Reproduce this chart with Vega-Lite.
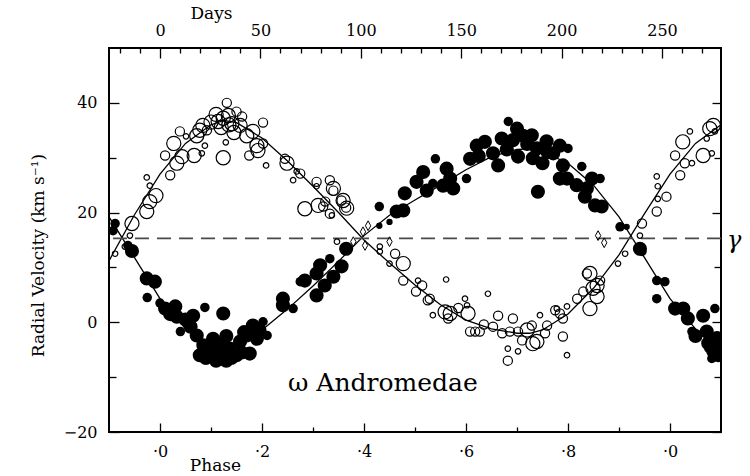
{
  "$schema": "https://vega.github.io/schema/vega-lite/v6.json",
  "width": 612,
  "height": 384,
  "autosize": {"type": "none"},
  "padding": {"left": 109, "top": 48, "right": 29, "bottom": 44},
  "background": "white",
  "config": {
    "view": {"stroke": "black", "strokeWidth": 2},
    "axis": {"domain": false, "grid": false, "tickColor": "black", "tickWidth": 1.3, "labelColor": "black", "titleColor": "black", "labelFont": "DejaVu Serif", "titleFont": "DejaVu Serif", "labelFontSize": 16, "titleFontSize": 17, "titleFontWeight": "normal", "labelOverlap": false, "labelFlush": false, "labelBound": false}
  },
  "datasets": {
    "open": [
      {"phase": -0.088, "rv": 12.5, "weight": 1}, {"phase": -0.069, "rv": 13.8, "weight": 1}, {"phase": -0.059, "rv": 15.8, "weight": 1},
      {"phase": -0.055, "rv": 18.0, "weight": 3}, {"phase": -0.026, "rv": 20.2, "weight": 3}, {"phase": -0.02, "rv": 22.0, "weight": 3},
      {"phase": -0.008, "rv": 23.1, "weight": 3}, {"phase": -0.02, "rv": 24.9, "weight": 1}, {"phase": -0.026, "rv": 26.4, "weight": 1},
      {"phase": 0.02, "rv": 26.8, "weight": 2}, {"phase": 0.01, "rv": 30.4, "weight": 2}, {"phase": 0.027, "rv": 32.6, "weight": 3},
      {"phase": 0.039, "rv": 34.8, "weight": 2}, {"phase": 0.051, "rv": 33.9, "weight": 1}, {"phase": 0.033, "rv": 29.0, "weight": 3},
      {"phase": 0.043, "rv": 30.2, "weight": 3}, {"phase": 0.067, "rv": 30.4, "weight": 3}, {"phase": 0.082, "rv": 30.8, "weight": 1},
      {"phase": 0.088, "rv": 32.2, "weight": 1}, {"phase": 0.072, "rv": 34.0, "weight": 3}, {"phase": 0.084, "rv": 35.9, "weight": 3},
      {"phase": 0.078, "rv": 35.0, "weight": 3}, {"phase": 0.092, "rv": 35.0, "weight": 2}, {"phase": 0.114, "rv": 36.6, "weight": 3},
      {"phase": 0.124, "rv": 37.2, "weight": 3}, {"phase": 0.134, "rv": 37.7, "weight": 3}, {"phase": 0.131, "rv": 40.0, "weight": 2},
      {"phase": 0.141, "rv": 36.2, "weight": 3}, {"phase": 0.124, "rv": 30.0, "weight": 3}, {"phase": 0.129, "rv": 32.8, "weight": 1},
      {"phase": 0.1, "rv": 36.5, "weight": 3}, {"phase": 0.12, "rv": 35.5, "weight": 3}, {"phase": 0.145, "rv": 34.6, "weight": 3},
      {"phase": 0.11, "rv": 37.9, "weight": 3}, {"phase": 0.15, "rv": 38.4, "weight": 2}, {"phase": 0.135, "rv": 36.0, "weight": 3},
      {"phase": 0.161, "rv": 37.5, "weight": 2}, {"phase": 0.157, "rv": 35.9, "weight": 3}, {"phase": 0.17, "rv": 34.0, "weight": 3},
      {"phase": 0.182, "rv": 34.8, "weight": 3}, {"phase": 0.202, "rv": 36.4, "weight": 2}, {"phase": 0.19, "rv": 32.2, "weight": 3},
      {"phase": 0.175, "rv": 30.4, "weight": 2}, {"phase": 0.202, "rv": 32.6, "weight": 2}, {"phase": 0.192, "rv": 31.3, "weight": 3},
      {"phase": 0.208, "rv": 28.6, "weight": 1}, {"phase": 0.249, "rv": 29.0, "weight": 3}, {"phase": 0.245, "rv": 29.8, "weight": 2},
      {"phase": 0.261, "rv": 25.9, "weight": 1}, {"phase": 0.268, "rv": 27.5, "weight": 1}, {"phase": 0.275, "rv": 27.1, "weight": 2},
      {"phase": 0.307, "rv": 25.6, "weight": 2}, {"phase": 0.307, "rv": 24.8, "weight": 1}, {"phase": 0.34, "rv": 24.0, "weight": 2},
      {"phase": 0.284, "rv": 20.7, "weight": 3}, {"phase": 0.31, "rv": 21.3, "weight": 3}, {"phase": 0.32, "rv": 21.1, "weight": 2},
      {"phase": 0.356, "rv": 22.2, "weight": 2}, {"phase": 0.365, "rv": 20.9, "weight": 2}, {"phase": 0.337, "rv": 19.5, "weight": 1},
      {"phase": 0.333, "rv": 25.9, "weight": 2}, {"phase": 0.34, "rv": 24.4, "weight": 3}, {"phase": 0.359, "rv": 22.2, "weight": 3},
      {"phase": 0.366, "rv": 20.8, "weight": 3}, {"phase": 0.324, "rv": 22.0, "weight": 2}, {"phase": 0.333, "rv": 19.8, "weight": 2},
      {"phase": 0.347, "rv": 14.7, "weight": 1}, {"phase": 0.431, "rv": 13.8, "weight": 1}, {"phase": 0.431, "rv": 12.9, "weight": 1},
      {"phase": 0.461, "rv": 12.5, "weight": 2}, {"phase": 0.477, "rv": 10.7, "weight": 3}, {"phase": 0.45, "rv": 10.7, "weight": 1},
      {"phase": 0.506, "rv": 7.6, "weight": 1}, {"phase": 0.514, "rv": 6.7, "weight": 2}, {"phase": 0.477, "rv": 7.6, "weight": 2},
      {"phase": 0.502, "rv": 5.6, "weight": 2}, {"phase": 0.525, "rv": 4.0, "weight": 2}, {"phase": 0.561, "rv": 7.8, "weight": 1},
      {"phase": 0.598, "rv": 4.3, "weight": 1}, {"phase": 0.602, "rv": 3.1, "weight": 1}, {"phase": 0.604, "rv": 1.6, "weight": 3},
      {"phase": 0.559, "rv": 1.9, "weight": 3}, {"phase": 0.569, "rv": 1.6, "weight": 3}, {"phase": 0.565, "rv": 0.7, "weight": 2},
      {"phase": 0.535, "rv": 1.3, "weight": 1}, {"phase": 0.529, "rv": 4.3, "weight": 2}, {"phase": 0.643, "rv": 5.2, "weight": 1},
      {"phase": 0.608, "rv": -1.7, "weight": 2}, {"phase": 0.618, "rv": -1.7, "weight": 2}, {"phase": 0.627, "rv": -1.7, "weight": 2},
      {"phase": 0.653, "rv": -0.8, "weight": 2}, {"phase": 0.663, "rv": 1.2, "weight": 2}, {"phase": 0.671, "rv": -2.0, "weight": 2},
      {"phase": 0.692, "rv": 0.7, "weight": 2}, {"phase": 0.686, "rv": -1.7, "weight": 2}, {"phase": 0.702, "rv": -1.7, "weight": 2},
      {"phase": 0.71, "rv": -3.3, "weight": 2}, {"phase": 0.682, "rv": -4.8, "weight": 1}, {"phase": 0.702, "rv": -5.3, "weight": 1},
      {"phase": 0.682, "rv": -7.0, "weight": 2}, {"phase": 0.729, "rv": -0.6, "weight": 2}, {"phase": 0.731, "rv": -3.9, "weight": 3},
      {"phase": 0.739, "rv": -3.5, "weight": 3}, {"phase": 0.745, "rv": 1.3, "weight": 1}, {"phase": 0.759, "rv": -0.6, "weight": 2},
      {"phase": 0.755, "rv": -2.0, "weight": 2}, {"phase": 0.778, "rv": 2.5, "weight": 1}, {"phase": 0.775, "rv": 2.2, "weight": 2},
      {"phase": 0.784, "rv": 1.6, "weight": 2}, {"phase": 0.79, "rv": 0.7, "weight": 2}, {"phase": 0.79, "rv": -2.6, "weight": 2},
      {"phase": 0.72, "rv": -1.4, "weight": 3}, {"phase": 0.635, "rv": -0.4, "weight": 2}, {"phase": 0.585, "rv": 2.6, "weight": 2},
      {"phase": 0.798, "rv": -6.0, "weight": 1}, {"phase": 0.798, "rv": 2.9, "weight": 1}, {"phase": 0.818, "rv": 4.3, "weight": 2},
      {"phase": 0.83, "rv": 5.6, "weight": 2}, {"phase": 0.843, "rv": 2.5, "weight": 3}, {"phase": 0.837, "rv": 8.9, "weight": 2},
      {"phase": 0.849, "rv": 6.2, "weight": 3}, {"phase": 0.857, "rv": 4.7, "weight": 3}, {"phase": 0.863, "rv": 7.6, "weight": 2},
      {"phase": 0.843, "rv": 8.9, "weight": 3}, {"phase": 0.857, "rv": 6.7, "weight": 3}, {"phase": 0.898, "rv": 10.7, "weight": 1},
      {"phase": 0.912, "rv": 12.5, "weight": 1}, {"phase": 0.941, "rv": 15.8, "weight": 1}, {"phase": 0.945, "rv": 18.0, "weight": 2},
      {"phase": 0.974, "rv": 20.2, "weight": 2}, {"phase": 0.976, "rv": 22.5, "weight": 1}, {"phase": 0.993, "rv": 22.9, "weight": 2},
      {"phase": 0.974, "rv": 26.6, "weight": 1}, {"phase": 0.976, "rv": 24.8, "weight": 1}, {"phase": 1.01, "rv": 30.4, "weight": 2},
      {"phase": 1.02, "rv": 26.8, "weight": 2}, {"phase": 1.029, "rv": 29.0, "weight": 2}, {"phase": 1.043, "rv": 29.0, "weight": 1},
      {"phase": 1.025, "rv": 32.9, "weight": 3}, {"phase": 1.039, "rv": 34.8, "weight": 1}, {"phase": 1.065, "rv": 30.4, "weight": 3},
      {"phase": 1.082, "rv": 30.8, "weight": 1}, {"phase": 1.072, "rv": 33.5, "weight": 1}, {"phase": 1.078, "rv": 35.3, "weight": 3},
      {"phase": 1.085, "rv": 35.9, "weight": 3}, {"phase": 1.088, "rv": 34.8, "weight": 1}
    ],
    "filled": [
      {"phase": -0.092, "rv": 16.7, "weight": 2}, {"phase": -0.088, "rv": 18.0, "weight": 2}, {"phase": -0.063, "rv": 14.0, "weight": 2},
      {"phase": -0.055, "rv": 13.0, "weight": 3}, {"phase": -0.026, "rv": 8.0, "weight": 3}, {"phase": -0.01, "rv": 7.4, "weight": 3},
      {"phase": -0.025, "rv": 4.5, "weight": 2}, {"phase": 0.01, "rv": 2.5, "weight": 3}, {"phase": 0.03, "rv": 2.9, "weight": 3},
      {"phase": 0.033, "rv": 1.0, "weight": 3}, {"phase": 0.04, "rv": -1.7, "weight": 2}, {"phase": 0.065, "rv": 1.2, "weight": 3},
      {"phase": 0.088, "rv": 2.7, "weight": 2}, {"phase": 0.124, "rv": 1.6, "weight": 3}, {"phase": 0.072, "rv": -2.4, "weight": 3},
      {"phase": 0.085, "rv": -4.2, "weight": 3}, {"phase": 0.104, "rv": -3.0, "weight": 3}, {"phase": 0.078, "rv": -6.0, "weight": 3},
      {"phase": 0.11, "rv": -7.0, "weight": 3}, {"phase": 0.137, "rv": -4.8, "weight": 3}, {"phase": 0.13, "rv": -7.0, "weight": 3},
      {"phase": 0.157, "rv": -3.5, "weight": 3}, {"phase": 0.17, "rv": -2.4, "weight": 3}, {"phase": 0.176, "rv": -5.7, "weight": 3},
      {"phase": 0.182, "rv": -0.6, "weight": 3}, {"phase": 0.202, "rv": 0.1, "weight": 2}, {"phase": 0.21, "rv": -2.4, "weight": 2},
      {"phase": 0.12, "rv": -5.0, "weight": 3}, {"phase": 0.095, "rv": -5.5, "weight": 3}, {"phase": 0.15, "rv": -6.0, "weight": 3},
      {"phase": 0.09, "rv": -6.5, "weight": 3}, {"phase": 0.1, "rv": -5.0, "weight": 3}, {"phase": 0.115, "rv": -4.0, "weight": 3},
      {"phase": 0.14, "rv": -6.5, "weight": 3}, {"phase": 0.16, "rv": -5.5, "weight": 3}, {"phase": 0.165, "rv": -1.8, "weight": 3},
      {"phase": 0.19, "rv": -3.0, "weight": 3}, {"phase": 0.195, "rv": -1.5, "weight": 3}, {"phase": 0.06, "rv": -0.8, "weight": 3},
      {"phase": 0.05, "rv": 0.5, "weight": 3}, {"phase": 0.13, "rv": -2.5, "weight": 3}, {"phase": 0.12, "rv": -3.5, "weight": 2},
      {"phase": 0.0, "rv": 3.5, "weight": 2}, {"phase": 0.02, "rv": 1.5, "weight": 3},
      {"phase": 0.241, "rv": 3.1, "weight": 3}, {"phase": 0.261, "rv": 2.5, "weight": 2}, {"phase": 0.275, "rv": 7.4, "weight": 2},
      {"phase": 0.241, "rv": 4.3, "weight": 3}, {"phase": 0.284, "rv": 7.6, "weight": 3}, {"phase": 0.307, "rv": 8.9, "weight": 3},
      {"phase": 0.314, "rv": 10.4, "weight": 3}, {"phase": 0.323, "rv": 6.7, "weight": 3}, {"phase": 0.333, "rv": 11.6, "weight": 2},
      {"phase": 0.34, "rv": 8.3, "weight": 3}, {"phase": 0.356, "rv": 10.2, "weight": 3}, {"phase": 0.365, "rv": 13.4, "weight": 3},
      {"phase": 0.307, "rv": 4.9, "weight": 3}, {"phase": 0.43, "rv": 21.1, "weight": 2}, {"phase": 0.45, "rv": 18.3, "weight": 1},
      {"phase": 0.43, "rv": 17.6, "weight": 1}, {"phase": 0.464, "rv": 20.2, "weight": 3}, {"phase": 0.477, "rv": 20.4, "weight": 3},
      {"phase": 0.48, "rv": 23.5, "weight": 3}, {"phase": 0.503, "rv": 25.6, "weight": 3}, {"phase": 0.516, "rv": 27.4, "weight": 3},
      {"phase": 0.523, "rv": 24.0, "weight": 3}, {"phase": 0.535, "rv": 25.3, "weight": 2}, {"phase": 0.54, "rv": 29.8, "weight": 2},
      {"phase": 0.555, "rv": 24.9, "weight": 3}, {"phase": 0.562, "rv": 28.0, "weight": 3}, {"phase": 0.569, "rv": 26.2, "weight": 3},
      {"phase": 0.575, "rv": 24.4, "weight": 3}, {"phase": 0.601, "rv": 26.2, "weight": 2}, {"phase": 0.608, "rv": 29.8, "weight": 3},
      {"phase": 0.621, "rv": 32.2, "weight": 3}, {"phase": 0.637, "rv": 32.9, "weight": 3}, {"phase": 0.663, "rv": 28.6, "weight": 3},
      {"phase": 0.653, "rv": 30.8, "weight": 3}, {"phase": 0.683, "rv": 36.6, "weight": 2}, {"phase": 0.70, "rv": 35.3, "weight": 3},
      {"phase": 0.712, "rv": 34.0, "weight": 3}, {"phase": 0.692, "rv": 33.2, "weight": 3}, {"phase": 0.702, "rv": 30.2, "weight": 3},
      {"phase": 0.67, "rv": 33.5, "weight": 3}, {"phase": 0.68, "rv": 31.5, "weight": 3}, {"phase": 0.72, "rv": 32.5, "weight": 3},
      {"phase": 0.75, "rv": 29.0, "weight": 3}, {"phase": 0.76, "rv": 31.0, "weight": 3}, {"phase": 0.625, "rv": 30.3, "weight": 3},
      {"phase": 0.729, "rv": 34.1, "weight": 3}, {"phase": 0.739, "rv": 31.7, "weight": 3}, {"phase": 0.731, "rv": 29.9, "weight": 3},
      {"phase": 0.758, "rv": 33.0, "weight": 3}, {"phase": 0.771, "rv": 30.8, "weight": 3}, {"phase": 0.784, "rv": 32.2, "weight": 3},
      {"phase": 0.80, "rv": 31.7, "weight": 2}, {"phase": 0.741, "rv": 23.8, "weight": 3}, {"phase": 0.784, "rv": 26.2, "weight": 3},
      {"phase": 0.798, "rv": 26.2, "weight": 3}, {"phase": 0.817, "rv": 25.0, "weight": 3}, {"phase": 0.79, "rv": 28.6, "weight": 3},
      {"phase": 0.827, "rv": 28.4, "weight": 2}, {"phase": 0.837, "rv": 24.4, "weight": 3}, {"phase": 0.847, "rv": 26.2, "weight": 3},
      {"phase": 0.863, "rv": 26.2, "weight": 2}, {"phase": 0.833, "rv": 22.9, "weight": 3}, {"phase": 0.853, "rv": 21.3, "weight": 3},
      {"phase": 0.866, "rv": 21.1, "weight": 3}, {"phase": 0.902, "rv": 17.4, "weight": 2}, {"phase": 0.915, "rv": 17.4, "weight": 1},
      {"phase": 0.941, "rv": 13.4, "weight": 3}, {"phase": 0.945, "rv": 12.9, "weight": 2}, {"phase": 0.974, "rv": 7.6, "weight": 2},
      {"phase": 0.99, "rv": 7.4, "weight": 2}, {"phase": 0.974, "rv": 4.3, "weight": 2}, {"phase": 1.01, "rv": 2.5, "weight": 3},
      {"phase": 1.026, "rv": 2.5, "weight": 3}, {"phase": 1.035, "rv": 0.7, "weight": 3}, {"phase": 1.065, "rv": 1.2, "weight": 3},
      {"phase": 1.088, "rv": 2.5, "weight": 2}, {"phase": 1.043, "rv": -1.7, "weight": 2}, {"phase": 1.072, "rv": -1.7, "weight": 3},
      {"phase": 1.075, "rv": -3.8, "weight": 3}, {"phase": 1.085, "rv": -5.3, "weight": 3}, {"phase": 1.092, "rv": -2.9, "weight": 3},
      {"phase": 1.082, "rv": -6.6, "weight": 2}, {"phase": 1.08, "rv": -4.5, "weight": 3}, {"phase": 1.09, "rv": -4.0, "weight": 3},
      {"phase": 1.095, "rv": -6.0, "weight": 3}, {"phase": 1.05, "rv": -2.5, "weight": 3}
    ],
    "diamonds": [
      {"phase": 0.379, "rv": 14.7}, {"phase": 0.398, "rv": 16.5}, {"phase": 0.402, "rv": 14.0}, {"phase": 0.408, "rv": 17.6},
      {"phase": 0.45, "rv": 14.7}, {"phase": 0.859, "rv": 15.8}, {"phase": 0.871, "rv": 14.5}
    ],
    "curveSecondary": [
      {"phase": -0.1, "rv": 11.2}, {"phase": -0.05, "rv": 19.6}, {"phase": 0.0, "rv": 27.0}, {"phase": 0.05, "rv": 32.6},
      {"phase": 0.1, "rv": 36.0}, {"phase": 0.125, "rv": 36.8}, {"phase": 0.15, "rv": 36.4}, {"phase": 0.2, "rv": 33.6},
      {"phase": 0.25, "rv": 29.4}, {"phase": 0.3, "rv": 24.8}, {"phase": 0.35, "rv": 20.0}, {"phase": 0.4, "rv": 15.0},
      {"phase": 0.45, "rv": 10.8}, {"phase": 0.5, "rv": 6.8}, {"phase": 0.55, "rv": 3.2}, {"phase": 0.6, "rv": 0.4},
      {"phase": 0.65, "rv": -1.2}, {"phase": 0.7, "rv": -2.0}, {"phase": 0.725, "rv": -2.0}, {"phase": 0.75, "rv": -1.4},
      {"phase": 0.8, "rv": 1.5}, {"phase": 0.85, "rv": 6.2}, {"phase": 0.9, "rv": 12.3}, {"phase": 0.95, "rv": 19.8},
      {"phase": 1.0, "rv": 27.0}, {"phase": 1.05, "rv": 32.6}, {"phase": 1.1, "rv": 36.0}
    ],
    "curvePrimary": [
      {"phase": -0.1, "rv": 19.2}, {"phase": -0.05, "rv": 11.8}, {"phase": 0.0, "rv": 4.3}, {"phase": 0.05, "rv": -1.2},
      {"phase": 0.1, "rv": -4.6}, {"phase": 0.125, "rv": -5.4}, {"phase": 0.15, "rv": -4.8}, {"phase": 0.2, "rv": -1.4},
      {"phase": 0.25, "rv": 2.4}, {"phase": 0.3, "rv": 6.6}, {"phase": 0.35, "rv": 11.1}, {"phase": 0.4, "rv": 15.8},
      {"phase": 0.45, "rv": 19.5}, {"phase": 0.5, "rv": 22.3}, {"phase": 0.55, "rv": 25.0}, {"phase": 0.6, "rv": 27.8},
      {"phase": 0.65, "rv": 30.2}, {"phase": 0.7, "rv": 31.5}, {"phase": 0.725, "rv": 31.6}, {"phase": 0.75, "rv": 31.1},
      {"phase": 0.8, "rv": 29.0}, {"phase": 0.85, "rv": 25.0}, {"phase": 0.9, "rv": 19.2}, {"phase": 0.95, "rv": 11.8},
      {"phase": 1.0, "rv": 4.3}, {"phase": 1.05, "rv": -1.2}, {"phase": 1.1, "rv": -4.6}
    ]
  },
  "layer": [
    {
      "data": {"name": "curveSecondary"},
      "mark": {"type": "line", "color": "black", "strokeWidth": 1.3, "clip": true},
      "encoding": {
        "x": {"field": "phase", "type": "quantitative", "scale": {"domain": [-0.1, 1.1], "nice": false, "zero": false},
          "axis": {"orient": "top", "values": [-0.07874, -0.03937, 0.03937, 0.07874, 0.11811, 0.15748, 0.23622, 0.27559, 0.31496, 0.35433, 0.43307, 0.47244, 0.51181, 0.55118, 0.62992, 0.66929, 0.70866, 0.74803, 0.82677, 0.86614, 0.90551, 0.94488, 1.02362, 1.06299], "labels": false, "tickSize": -5, "title": null}},
        "y": {"field": "rv", "type": "quantitative", "scale": {"domain": [-20, 50], "nice": false, "zero": false},
          "axis": {"orient": "right", "values": [-10, 10, 30], "labels": false, "tickSize": -7, "title": null}}
      }
    },
    {
      "data": {"name": "curvePrimary"},
      "mark": {"type": "line", "color": "black", "strokeWidth": 1.3, "clip": true},
      "encoding": {
        "x": {"field": "phase", "type": "quantitative", "axis": null},
        "y": {"field": "rv", "type": "quantitative", "axis": null}
      }
    },
    {
      "data": {"values": [{"gamma": 15.3}]},
      "mark": {"type": "rule", "color": "#4a4a4a", "strokeWidth": 1.6, "strokeDash": [14, 8]},
      "encoding": {"y": {"field": "gamma", "type": "quantitative", "axis": null}}
    },
    {
      "data": {"name": "open"},
      "mark": {"type": "point", "shape": "circle", "filled": false, "stroke": "black", "strokeWidth": 1.2, "opacity": 1, "clip": true},
      "encoding": {
        "x": {"field": "phase", "type": "quantitative",
          "axis": {"orient": "bottom", "values": [0, 0.2, 0.4, 0.6, 0.8, 1.0], "labelExpr": "'·' + (round(datum.value * 10) % 10)", "tickSize": -9, "labelPadding": 20, "title": "Phase", "titleX": 106, "titleY": 38, "titleAlign": "center", "titleBaseline": "alphabetic", "titleAnchor": null}},
        "y": {"field": "rv", "type": "quantitative",
          "axis": {"orient": "left", "values": [-20, 0, 20, 40], "tickSize": -10, "labelPadding": 22, "title": "Radial Velocity (km s⁻¹)", "titleX": -71, "titleY": 207, "titleAngle": 270, "titleAlign": "center", "titleBaseline": "middle", "titleFontSize": 17, "titleAnchor": null}},
        "size": {"field": "weight", "type": "quantitative", "scale": {"domain": [1, 2, 3], "range": [30, 85, 200]}, "legend": null}
      }
    },
    {
      "data": {"name": "filled"},
      "mark": {"type": "point", "shape": "circle", "filled": true, "color": "black", "opacity": 1, "strokeWidth": 0, "clip": true},
      "encoding": {
        "x": {"field": "phase", "type": "quantitative",
          "axis": {"orient": "bottom", "values": [0.1, 0.3, 0.5, 0.7, 0.9], "labels": false, "tickSize": -5, "title": null}},
        "y": {"field": "rv", "type": "quantitative",
          "axis": {"orient": "left", "values": [-10, 10, 30], "labels": false, "tickSize": -7, "title": null}},
        "size": {"field": "weight", "type": "quantitative", "scale": {"domain": [1, 2, 3], "range": [40, 90, 200]}, "legend": null}
      }
    },
    {
      "data": {"name": "diamonds"},
      "mark": {"type": "point", "shape": "M0,-1L0.55,0L0,1L-0.55,0Z", "filled": false, "stroke": "black", "strokeWidth": 1, "size": 95, "opacity": 1},
      "encoding": {
        "x": {"field": "phase", "type": "quantitative",
          "axis": {"orient": "top", "values": [0, 0.19685, 0.3937, 0.59055, 0.7874, 0.98425], "labelExpr": "format(datum.value * 254, '.0f')", "tickSize": -10, "labelPadding": 20, "title": "Days", "titleX": 102, "titleY": -30, "titleAlign": "center", "titleBaseline": "alphabetic", "titleAnchor": null}},
        "y": {"field": "rv", "type": "quantitative",
          "axis": {"orient": "right", "values": [-20, 0, 20, 40], "labels": false, "tickSize": -9, "title": null}}
      }
    },
    {
      "data": {"values": [{"phase": 0.251, "rv": -12.6, "label": "ω Andromedae"}]},
      "mark": {"type": "text", "align": "left", "baseline": "alphabetic", "font": "DejaVu Serif", "fontSize": 25, "color": "black"},
      "encoding": {
        "x": {"field": "phase", "type": "quantitative", "axis": null},
        "y": {"field": "rv", "type": "quantitative", "axis": null},
        "text": {"field": "label"}
      }
    },
    {
      "data": {"values": [{"phase": 1.112, "rv": 13.5, "label": "γ"}]},
      "mark": {"type": "text", "align": "left", "baseline": "alphabetic", "font": "DejaVu Serif", "fontStyle": "italic", "fontSize": 24, "color": "black", "clip": false},
      "encoding": {
        "x": {"field": "phase", "type": "quantitative", "axis": null},
        "y": {"field": "rv", "type": "quantitative", "axis": null},
        "text": {"field": "label"}
      }
    }
  ],
  "resolve": {"axis": {"x": "independent", "y": "independent"}, "scale": {"size": "independent"}}
}
